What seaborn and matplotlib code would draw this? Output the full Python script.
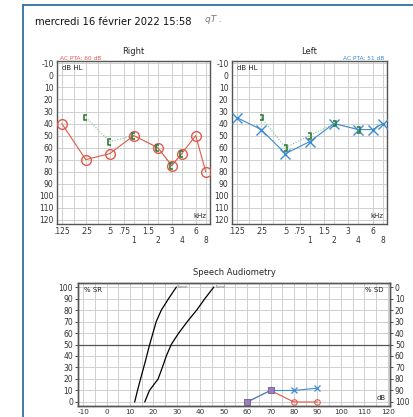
import matplotlib
matplotlib.use('Agg')

import matplotlib.pyplot as plt
import seaborn as sns
from matplotlib.lines import Line2D
from matplotlib.path import Path

# --------------------------------------------------------------------------- #
# DATA
# --------------------------------------------------------------------------- #
FREQ_TICKS = [0.125, 0.25, 0.5, 0.75, 1, 1.5, 2, 3, 4, 6, 8]
FREQ_LABELS = [".125", ".25", ".5", ".75", "\n1", "1.5", "\n2", "3", "\n4", "6", "\n8"]
FREQ_GRID_EXTRA = [0.177, 0.354]
DB_TICKS = list(range(-10, 121, 10))

right_ac_freq = [0.125, 0.25, 0.5, 1, 2, 3, 4, 6, 8]
right_ac_db = [40, 70, 65, 50, 60, 75, 65, 50, 80]
right_bc_freq = [0.25, 0.5, 1, 2, 3, 4]
right_bc_db = [35, 55, 50, 60, 75, 65]

left_ac_freq = [0.125, 0.25, 0.5, 1, 2, 4, 6, 8]
left_ac_db = [35, 45, 65, 55, 40, 45, 45, 40]
left_bc_freq = [0.25, 0.5, 1, 2, 4]
left_bc_db = [35, 60, 50, 40, 45]

SP_X_TICKS = list(range(-10, 121, 10))
SP_Y_TICKS = list(range(0, 101, 10))

norm1_db = [12, 13.2, 14.5, 16.5, 18.4, 19.8, 21.2, 23.4, 26.5, 29.8]
norm1_pct = [0, 10, 20, 35, 50, 60, 70, 80, 90, 100]
norm2_db = [16.3, 18.3, 22, 23.8, 25.5, 27.6, 30.8, 34.5, 38.5, 42, 45.8]
norm2_pct = [0, 10, 20, 30, 40, 50, 60, 70, 80, 90, 100]

sp_right_db = [60, 70, 80, 90]
sp_right_pct = [0, 10, 0, 0]
sp_left_db = [60, 70, 80, 90]
sp_left_pct = [0, 10, 10, 12]
sp_both_db = [60, 70]
sp_both_pct = [0, 10]

RED = "#e2594a"
BLUE = "#3d8bd0"
GREEN = "#2f7f3a"
GREEN_LT = "#86c095"
GRID = "#cfcfcf"
SPINE = "#555555"
FRAME = "#2f6f9f"

# bone conduction brackets, open paths
BRACKET_R = Path([(0.5, 1), (-0.5, 1), (-0.5, -1), (0.5, -1)],
                 [Path.MOVETO, Path.LINETO, Path.LINETO, Path.LINETO])
BRACKET_L = Path([(-0.5, 1), (0.5, 1), (0.5, -1), (-0.5, -1)],
                 [Path.MOVETO, Path.LINETO, Path.LINETO, Path.LINETO])

sns.set_style("white")
plt.rcParams['font.family'] = ['DejaVu Sans']

fig = plt.figure(figsize=(4.14, 4.17), dpi=100)
W, H = 414, 417


def px_axes(x0, y0, x1, y1):
    return fig.add_axes([x0 / W, 1 - y1 / H, (x1 - x0) / W, (y1 - y0) / H])


# --------------------------------------------------------------------------- #
# AUDIOGRAMS
# --------------------------------------------------------------------------- #
def setup_audiogram(ax, title):
    ax.set_xscale('log', base=2)
    ax.set_xlim(0.125 * 2 ** -0.2, 8 * 2 ** 0.18)
    ax.set_ylim(123.5, -12)
    ax.set_yticks(DB_TICKS)
    ax.set_yticklabels([str(v) for v in DB_TICKS], fontsize=5.5)
    ax.set_xticks(FREQ_TICKS)
    ax.set_xticklabels(FREQ_LABELS, fontsize=5.5, va='top', linespacing=0.9)
    ax.minorticks_off()
    for f in FREQ_TICKS + FREQ_GRID_EXTRA:
        ax.axvline(f, color=GRID, lw=0.7, zorder=0)
    for d in DB_TICKS:
        ax.axhline(d, color=GRID, lw=0.7, zorder=0)
    ax.tick_params(length=0, pad=2.5, colors="#333333")
    for s in ax.spines.values():
        s.set_color(SPINE)
        s.set_linewidth(1.0)
    ax.set_title(title, fontsize=6, pad=5)
    ax.text(0.03, 0.975, "dB HL", transform=ax.transAxes, fontsize=5,
            ha='left', va='top', color="#222222")
    ax.text(0.975, 0.03, "kHz", transform=ax.transAxes, fontsize=5,
            ha='right', va='bottom', color="#222222")


ax_r = px_axes(57, 61, 210, 224)
setup_audiogram(ax_r, "Right")
sns.lineplot(x=right_bc_freq, y=right_bc_db, ax=ax_r, color=GREEN_LT, lw=0.8,
             linestyle=(0, (1, 1.5)), sort=False, estimator=None, zorder=2)
sns.lineplot(x=right_ac_freq, y=right_ac_db, ax=ax_r, color=RED, lw=0.8,
             sort=False, estimator=None, marker='o', markersize=7,
             markerfacecolor='none', markeredgecolor=RED, markeredgewidth=1.0,
             zorder=3)
sns.scatterplot(x=right_bc_freq, y=right_bc_db, ax=ax_r, marker=BRACKET_R,
                s=18, facecolors='none', edgecolors=GREEN, linewidths=1.2,
                zorder=4)
ax_r.text(0.02, 1.0, "AC PTA: 60 dB", transform=ax_r.transAxes, fontsize=4.2,
          color=RED, ha='left', va='bottom')

ax_l = px_axes(232, 61, 387, 224)
setup_audiogram(ax_l, "Left")
sns.lineplot(x=left_bc_freq, y=left_bc_db, ax=ax_l, color=GREEN_LT, lw=0.8,
             linestyle=(0, (1, 1.5)), sort=False, estimator=None, zorder=2)
sns.lineplot(x=left_ac_freq, y=left_ac_db, ax=ax_l, color=BLUE, lw=0.8,
             sort=False, estimator=None, marker='x', markersize=6.5,
             markeredgecolor=BLUE, markeredgewidth=1.0, zorder=3)
sns.scatterplot(x=left_bc_freq, y=left_bc_db, ax=ax_l, marker=BRACKET_L,
                s=18, facecolors='none', edgecolors=GREEN, linewidths=1.2,
                zorder=4)
ax_l.text(0.985, 1.0, "AC PTA: 51 dB", transform=ax_l.transAxes, fontsize=4.2,
          color=BLUE, ha='right', va='bottom')

# --------------------------------------------------------------------------- #
# SPEECH AUDIOMETRY
# --------------------------------------------------------------------------- #
ax_s = px_axes(78, 283, 390, 406)
ax_s.set_xlim(-12.2, 121)
ax_s.set_ylim(-3.5, 103.5)
for x in range(-10, 121, 5):
    ax_s.axvline(x, color=GRID, lw=0.7, zorder=0)
for y in SP_Y_TICKS:
    ax_s.axhline(y, color=GRID, lw=0.7, zorder=0)
ax_s.axhline(50, color="#555555", lw=0.9, zorder=1)
ax_s.set_xticks(SP_X_TICKS)
ax_s.set_xticklabels([str(v) for v in SP_X_TICKS], fontsize=5.2)
ax_s.set_yticks(SP_Y_TICKS)
ax_s.set_yticklabels([str(v) for v in SP_Y_TICKS], fontsize=5.5)
ax_s.tick_params(axis='y', length=2, width=0.6, pad=1.5, colors="#333333")
ax_s.tick_params(axis='x', length=1, width=0.6, pad=0.8, colors="#333333")
for s in ax_s.spines.values():
    s.set_color(SPINE)
    s.set_linewidth(1.0)
ax_s.set_title("Speech Audiometry", fontsize=6, pad=6)

ax_s2 = ax_s.twinx()
ax_s2.set_ylim(103.5, -3.5)
ax_s2.set_yticks(SP_Y_TICKS)
ax_s2.set_yticklabels([str(v) for v in SP_Y_TICKS], fontsize=5.5)
ax_s2.tick_params(length=2, width=0.6, pad=1.5, colors="#333333")
for s in ax_s2.spines.values():
    s.set_color(SPINE)
    s.set_linewidth(1.0)

sns.lineplot(x=norm1_db, y=norm1_pct, ax=ax_s, color="black", lw=0.9,
             sort=False, estimator=None, zorder=3)
sns.lineplot(x=norm2_db, y=norm2_pct, ax=ax_s, color="black", lw=0.9,
             sort=False, estimator=None, zorder=3)
for xs, ys in [(norm1_db, norm1_pct), (norm2_db, norm2_pct)]:
    ax_s.text(xs[-1] + 0.6, ys[-1], "(Norme)", fontsize=1.8,
              color="#666666", ha='left', va='center')

sns.lineplot(x=sp_right_db, y=sp_right_pct, ax=ax_s, color=RED, lw=0.8,
             sort=False, estimator=None, marker='o', markersize=4,
             markerfacecolor='none', markeredgecolor=RED,
             markeredgewidth=0.8, zorder=4)
sns.lineplot(x=sp_left_db, y=sp_left_pct, ax=ax_s, color=BLUE, lw=0.8,
             sort=False, estimator=None, marker='x', markersize=4,
             markeredgecolor=BLUE, markeredgewidth=0.9, zorder=5)
sns.scatterplot(x=sp_both_db, y=sp_both_pct, ax=ax_s, marker='s', s=14,
                color="#9a7fb8", edgecolor="#6a5a9a", linewidth=0.5, zorder=6)

ax_s.text(0.02, 0.97, "% SR", transform=ax_s.transAxes, fontsize=5,
          ha='left', va='top', color="#222222")
ax_s.text(0.98, 0.97, "% SD", transform=ax_s.transAxes, fontsize=5,
          ha='right', va='top', color="#222222")
ax_s.text(0.985, 0.04, "dB", transform=ax_s.transAxes, fontsize=5,
          ha='right', va='bottom', color="#222222")

# --------------------------------------------------------------------------- #
# HEADER + FRAME
# --------------------------------------------------------------------------- #
fig.text(35 / W, 1 - 22 / H, "mercredi 16 février 2022 15:58", fontsize=7.2,
         ha='left', va='center', color="#111111")
fig.text(205 / W, 1 - 20 / H, "qT .", fontsize=6.5, style='italic',
         ha='left', va='center', color="#777777")

fig.add_artist(Line2D([23 / W, 23 / W], [0, 1 - 5 / H], color=FRAME, lw=1.3))
fig.add_artist(Line2D([23 / W, 1], [1 - 5 / H, 1 - 5 / H], color=FRAME, lw=1.3))

fig.savefig("out.png", dpi=100)
